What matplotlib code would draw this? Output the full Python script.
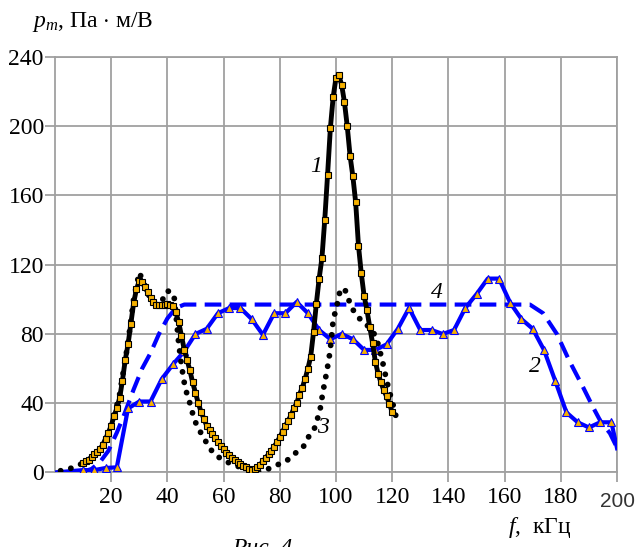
import numpy as np
import matplotlib.pyplot as plt

plt.rcParams.update({
    "font.family": "serif",
    "font.serif": ["Liberation Serif"],
    "font.size": 17,
    "mathtext.fontset": "custom",
    "mathtext.it": "Liberation Serif:italic",
    "mathtext.rm": "Liberation Serif",
})

# curve 1: black line, orange squares
f1 = np.arange(10, 121, 1)
p1 = [5.5, 6.5, 7.5, 9, 10.5, 12, 13.5, 16, 19.5, 23,
      27, 32.5, 37, 43, 53, 65, 74, 86, 98, 106,
      110.5, 110, 107, 104, 101, 98.5, 97, 96.5, 96.5, 97,
      97.5, 97, 96, 92.5, 87, 79, 71, 65, 59, 52,
      46, 40, 35, 31, 27, 24.5, 22, 20, 17.5, 15.5,
      13.5, 11.5, 10, 8.5, 7.2, 6, 5, 4, 3, 2.2,
      1.5, 2, 3, 4.5, 6.5, 8.5, 10.5, 12.5, 15, 17.5,
      20.5, 23.5, 27, 30, 33, 37, 40, 45, 49, 54,
      60, 67, 81, 97.5, 112, 124, 146, 172, 199, 217,
      228, 229.5, 224, 214, 200, 183, 171, 156, 131, 115,
      102, 94, 84, 75, 64, 57, 52, 47.5, 44, 39.5, 35]

# curve 2: blue line, triangles
f2 = [0, 10, 14, 18, 22, 26, 30, 34, 38, 42, 46, 50, 54, 58, 62, 66, 70,
      74, 78, 82, 86, 90, 94, 98, 102, 106, 110, 114, 118, 122, 126, 130,
      134, 138, 142, 146, 150, 154, 158, 162, 166, 170, 174, 178, 182, 186,
      190, 194, 198, 200]
p2 = [0, 1.4, 1.4, 2.6, 3, 37, 41, 41, 54, 62.5, 70, 80, 83, 92, 95, 95, 88.6,
      79.5, 92, 92, 98.5, 92, 82.3, 77, 80, 77, 70.8, 70.8, 74, 83, 95, 82.3,
      82.3, 80, 82.3, 95, 103, 112, 112, 98, 88.6, 83, 70.8, 53, 34.7, 29,
      26, 29, 29, 14]

# curve 3: black dots
f3 = [2, 5, 8, 11, 14, 17, 20, 23, 26, 28, 30, 32, 34, 36, 38, 40, 42.3,
      43, 44, 45, 46, 47, 48, 49, 50, 52, 54, 56, 58.7, 62, 66, 69.4, 72,
      75.8, 79, 82.6, 85.4, 88.3, 90, 92.5, 94.3, 95.4, 96.8, 97.9, 99,
      100.4, 101.4, 103, 105.6, 107.8, 110, 112, 114, 115, 116.5, 117.5,
      118.2, 119.3, 120.5, 121.7]
p3 = [1, 2, 4, 6, 9, 14, 26, 45, 75, 100, 115.5, 108, 100, 97, 99, 105, 103,
      92, 75, 62, 52, 45, 40, 34, 29, 22.6, 17, 12, 8.3, 5.5, 3, 1.4, 0.3,
      2, 4.3, 7, 11, 14.6, 20, 26, 36, 47, 59, 70, 88,
      97, 104.7, 106.5, 95, 90, 86, 84, 79, 74, 64.5, 57,
      52, 45, 38, 30]

# curve 4: blue dashed
f4 = [0, 10, 13, 16, 19, 22, 25, 28, 31, 34, 37, 40, 43, 46, 169, 173.7,
      178.6, 183, 188, 191.5, 194, 197.5, 200.4]
p4 = [0, 0.5, 2, 6, 12.5, 23, 35, 48, 60, 69, 80, 89, 95, 97, 97, 92,
      80, 64.6, 49, 37.6, 30, 22.6, 13]

fig = plt.figure(figsize=(6.43, 5.47), dpi=100)
ax = fig.add_axes([0.0855, 0.1362, 0.8741, 0.7596])

blue = "#0000ff"
orange = "#f5b000"

ax.plot(f4, p4, color=blue, lw=3, linestyle=(0, (4, 2)), zorder=2)
ax.plot(f2, p2, color=blue, lw=3, marker="^", markersize=6,
        markerfacecolor=orange, markeredgecolor=blue, markeredgewidth=0.8,
        markevery=slice(1, -1), zorder=3)
ax.plot(f3, p3, color="black", lw=4.2, linestyle=(0, (0.01, 1.8)),
        dash_capstyle="round", zorder=4)
ax.plot(f1, p1, color="black", lw=3.5, marker="s", markersize=4.8,
        markerfacecolor=orange, markeredgecolor="black", markeredgewidth=0.8,
        zorder=5)

ax.set_xlim(0, 200)
ax.set_ylim(0, 240)
ax.set_xticks(range(20, 201, 20))
ax.set_xticklabels([str(v) for v in range(20, 181, 20)] + [""])
ax.set_yticks(range(0, 241, 40))
ax.grid(True, color="#a0a0a0", lw=1.3)
ax.set_axisbelow(True)
for s in ax.spines.values():
    s.set_color("#a0a0a0")
    s.set_linewidth(1.3)
ax.tick_params(colors="#a0a0a0", labelcolor="black", width=1.3, length=7)
ax.tick_params(axis="y", pad=1)

ax.text(200, -16.5, "200", family="Liberation Sans", fontsize=15,
        color="#333333", ha="center", va="center", clip_on=False)

# curve labels
ax.text(92.9, 177, "1", style="italic", ha="center", va="center")
ax.text(170.8, 61, "2", style="italic", ha="center", va="center")
ax.text(95.4, 26, "3", style="italic", ha="center", va="center")
ax.text(136, 104, "4", style="italic", ha="center", va="center")

fig.text(0.05, 0.96, r"$p_m$, Па $\cdot$ м/В", ha="left", va="center")
fig.text(0.84, 0.035, r"$f$,  кГц", ha="center", va="center")
fig.text(0.361, -0.013, "Рис. 4", style="italic", ha="left", va="baseline")

fig.savefig("out.png", dpi=100)
